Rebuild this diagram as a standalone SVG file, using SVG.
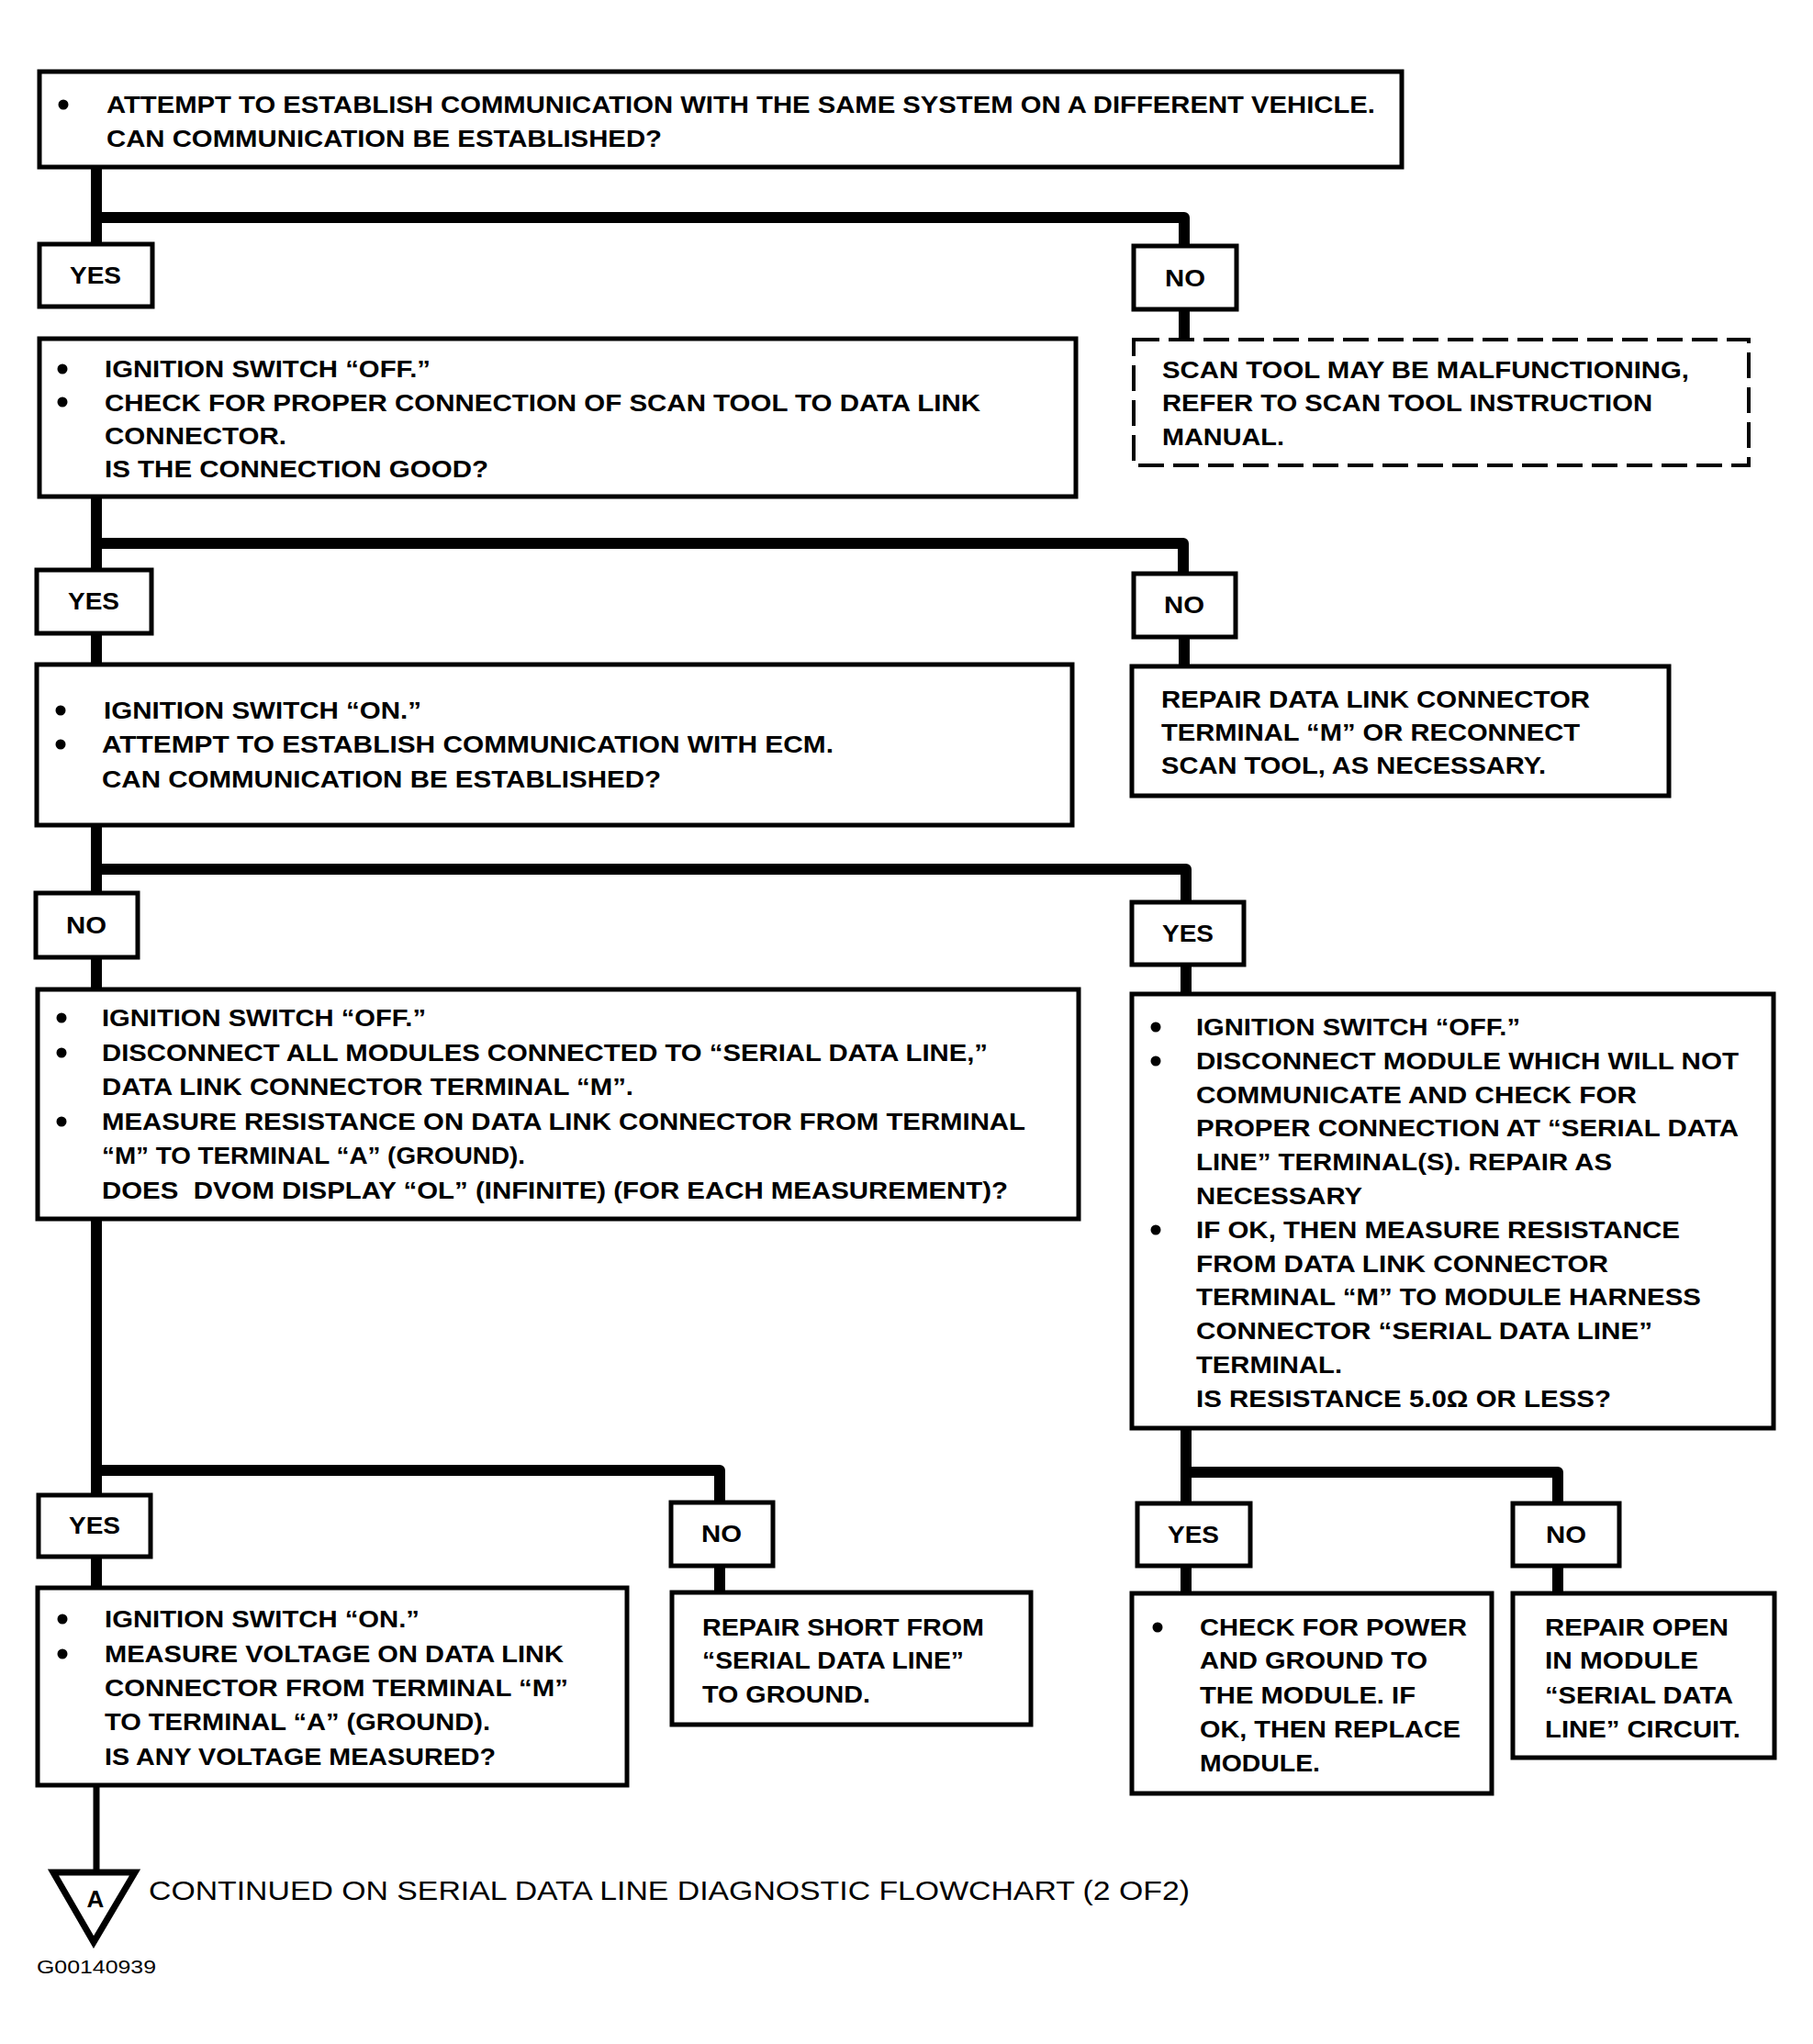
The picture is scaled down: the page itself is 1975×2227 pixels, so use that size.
<svg xmlns="http://www.w3.org/2000/svg" width="1975" height="2227" viewBox="0 0 1975 2227">
<style>
.box{fill:#fff;stroke:#000;stroke-width:5}
.dash{fill:#fff;stroke:#000;stroke-width:4;stroke-dasharray:28 10}
.t{font-family:"Liberation Sans",Arial,Helvetica,sans-serif;font-weight:bold;font-size:26px;fill:#000}
.lb{font-family:"Liberation Sans",Arial,Helvetica,sans-serif;font-weight:bold;font-size:25px;fill:#000;text-anchor:middle}
.conn{fill:none;stroke:#000;stroke-width:12;stroke-linejoin:round}
.thin{fill:none;stroke:#000;stroke-width:7}
.foot{font-family:"Liberation Sans",Arial,Helvetica,sans-serif;font-size:29px;fill:#000}
.code{font-family:"Liberation Sans",Arial,Helvetica,sans-serif;font-size:20px;fill:#000}
</style>
<rect width="1975" height="2227" fill="#fff"/>
<g id="connectors">
<path class="conn" d="M105,182 V266 M105,237 H1290 V268 M1290,337 V370"/>
<path class="conn" d="M105,541 V621 M105,592 H1289 V625 M105,690 V724 M1290,694 V726"/>
<path class="conn" d="M105,899 V973 M105,947 H1292 V983 M105,1043 V1078 M1292,1051 V1083"/>
<path class="conn" d="M105,1328 V1629 M105,1602 H784 V1637 M105,1696 V1730 M784,1706 V1735"/>
<path class="conn" d="M1292,1556 V1638 M1292,1604 H1697 V1638 M1292,1706 V1736 M1697,1706 V1736"/>
<path class="thin" d="M105,1945 V2040"/>
</g>
<g id="n1">
<rect class="box" x="43" y="78" width="1484" height="104"/>
<circle cx="69" cy="114" r="5.5"/>
<text class="t" x="116" y="123" textLength="1382" lengthAdjust="spacingAndGlyphs">ATTEMPT TO ESTABLISH COMMUNICATION WITH THE SAME SYSTEM ON A DIFFERENT VEHICLE.</text>
<text class="t" x="116" y="160" textLength="605" lengthAdjust="spacingAndGlyphs">CAN COMMUNICATION BE ESTABLISHED?</text>
</g>
<g id="yes1"><rect class="box" x="43" y="266" width="123" height="68"/><text class="lb" x="104" y="309" textLength="56" lengthAdjust="spacingAndGlyphs">YES</text></g>
<g id="no1"><rect class="box" x="1235" y="268" width="112" height="69"/><text class="lb" x="1291" y="312" textLength="44" lengthAdjust="spacingAndGlyphs">NO</text></g>
<g id="n2">
<rect class="box" x="43" y="369" width="1129" height="172"/>
<circle cx="68" cy="402" r="5.5"/><circle cx="68" cy="438" r="5.5"/>
<text class="t" x="114" y="411" textLength="355" lengthAdjust="spacingAndGlyphs">IGNITION SWITCH “OFF.”</text>
<text class="t" x="114" y="448" textLength="954" lengthAdjust="spacingAndGlyphs">CHECK FOR PROPER CONNECTION OF SCAN TOOL TO DATA LINK</text>
<text class="t" x="114" y="484" textLength="198" lengthAdjust="spacingAndGlyphs">CONNECTOR.</text>
<text class="t" x="114" y="520" textLength="418" lengthAdjust="spacingAndGlyphs">IS THE CONNECTION GOOD?</text>
</g>
<g id="n3">
<rect class="dash" x="1235" y="370" width="670" height="137"/>
<text class="t" x="1266" y="412" textLength="574" lengthAdjust="spacingAndGlyphs">SCAN TOOL MAY BE MALFUNCTIONING,</text>
<text class="t" x="1266" y="448" textLength="534" lengthAdjust="spacingAndGlyphs">REFER TO SCAN TOOL INSTRUCTION</text>
<text class="t" x="1266" y="485" textLength="133" lengthAdjust="spacingAndGlyphs">MANUAL.</text>
</g>
<g id="yes2"><rect class="box" x="40" y="621" width="125" height="69"/><text class="lb" x="102" y="664" textLength="56" lengthAdjust="spacingAndGlyphs">YES</text></g>
<g id="no2"><rect class="box" x="1235" y="625" width="111" height="69"/><text class="lb" x="1290" y="668" textLength="44" lengthAdjust="spacingAndGlyphs">NO</text></g>
<g id="n4">
<rect class="box" x="40" y="724" width="1128" height="175"/>
<circle cx="66" cy="774" r="5.5"/><circle cx="66" cy="811" r="5.5"/>
<text class="t" x="113" y="783" textLength="346" lengthAdjust="spacingAndGlyphs">IGNITION SWITCH “ON.”</text>
<text class="t" x="111" y="820" textLength="797" lengthAdjust="spacingAndGlyphs">ATTEMPT TO ESTABLISH COMMUNICATION WITH ECM.</text>
<text class="t" x="111" y="858" textLength="609" lengthAdjust="spacingAndGlyphs">CAN COMMUNICATION BE ESTABLISHED?</text>
</g>
<g id="n5">
<rect class="box" x="1233" y="726" width="585" height="141"/>
<text class="t" x="1265" y="771" textLength="467" lengthAdjust="spacingAndGlyphs">REPAIR DATA LINK CONNECTOR</text>
<text class="t" x="1265" y="807" textLength="456" lengthAdjust="spacingAndGlyphs">TERMINAL “M” OR RECONNECT</text>
<text class="t" x="1265" y="843" textLength="419" lengthAdjust="spacingAndGlyphs">SCAN TOOL, AS NECESSARY.</text>
</g>
<g id="no3"><rect class="box" x="39" y="973" width="111" height="70"/><text class="lb" x="94" y="1017" textLength="44" lengthAdjust="spacingAndGlyphs">NO</text></g>
<g id="yes3"><rect class="box" x="1233" y="983" width="122" height="68"/><text class="lb" x="1294" y="1026" textLength="56" lengthAdjust="spacingAndGlyphs">YES</text></g>
<g id="n6">
<rect class="box" x="41" y="1078" width="1134" height="250"/>
<circle cx="67" cy="1109" r="5.5"/><circle cx="67" cy="1147" r="5.5"/><circle cx="67" cy="1222" r="5.5"/>
<text class="t" x="111" y="1118" textLength="353" lengthAdjust="spacingAndGlyphs">IGNITION SWITCH “OFF.”</text>
<text class="t" x="111" y="1156" textLength="965" lengthAdjust="spacingAndGlyphs">DISCONNECT ALL MODULES CONNECTED TO “SERIAL DATA LINE,”</text>
<text class="t" x="111" y="1193" textLength="579" lengthAdjust="spacingAndGlyphs">DATA LINK CONNECTOR TERMINAL “M”.</text>
<text class="t" x="111" y="1231" textLength="1006" lengthAdjust="spacingAndGlyphs">MEASURE RESISTANCE ON DATA LINK CONNECTOR FROM TERMINAL</text>
<text class="t" x="111" y="1268" textLength="461" lengthAdjust="spacingAndGlyphs">“M” TO TERMINAL “A” (GROUND).</text>
<text class="t" x="111" y="1306" textLength="987" lengthAdjust="spacingAndGlyphs" xml:space="preserve">DOES  DVOM DISPLAY “OL” (INFINITE) (FOR EACH MEASUREMENT)?</text>
</g>
<g id="n7">
<rect class="box" x="1233" y="1083" width="699" height="473"/>
<circle cx="1259" cy="1119" r="5.5"/><circle cx="1259" cy="1156" r="5.5"/><circle cx="1259" cy="1340" r="5.5"/>
<text class="t" x="1303" y="1128" textLength="353" lengthAdjust="spacingAndGlyphs">IGNITION SWITCH “OFF.”</text>
<text class="t" x="1303" y="1165" textLength="591" lengthAdjust="spacingAndGlyphs">DISCONNECT MODULE WHICH WILL NOT</text>
<text class="t" x="1303" y="1202" textLength="480" lengthAdjust="spacingAndGlyphs">COMMUNICATE AND CHECK FOR</text>
<text class="t" x="1303" y="1238" textLength="591" lengthAdjust="spacingAndGlyphs">PROPER CONNECTION AT “SERIAL DATA</text>
<text class="t" x="1303" y="1275" textLength="453" lengthAdjust="spacingAndGlyphs">LINE” TERMINAL(S). REPAIR AS</text>
<text class="t" x="1303" y="1312" textLength="181" lengthAdjust="spacingAndGlyphs">NECESSARY</text>
<text class="t" x="1303" y="1349" textLength="527" lengthAdjust="spacingAndGlyphs">IF OK, THEN MEASURE RESISTANCE</text>
<text class="t" x="1303" y="1386" textLength="449" lengthAdjust="spacingAndGlyphs">FROM DATA LINK CONNECTOR</text>
<text class="t" x="1303" y="1422" textLength="550" lengthAdjust="spacingAndGlyphs">TERMINAL “M” TO MODULE HARNESS</text>
<text class="t" x="1303" y="1459" textLength="497" lengthAdjust="spacingAndGlyphs">CONNECTOR “SERIAL DATA LINE”</text>
<text class="t" x="1303" y="1496" textLength="159" lengthAdjust="spacingAndGlyphs">TERMINAL.</text>
<text class="t" x="1303" y="1533" textLength="452" lengthAdjust="spacingAndGlyphs">IS RESISTANCE 5.0Ω OR LESS?</text>
</g>
<g id="yes4"><rect class="box" x="42" y="1629" width="122" height="67"/><text class="lb" x="103" y="1671" textLength="56" lengthAdjust="spacingAndGlyphs">YES</text></g>
<g id="no4"><rect class="box" x="731" y="1637" width="111" height="69"/><text class="lb" x="786" y="1680" textLength="44" lengthAdjust="spacingAndGlyphs">NO</text></g>
<g id="yes5"><rect class="box" x="1239" y="1638" width="123" height="68"/><text class="lb" x="1300" y="1681" textLength="56" lengthAdjust="spacingAndGlyphs">YES</text></g>
<g id="no5"><rect class="box" x="1648" y="1638" width="116" height="68"/><text class="lb" x="1706" y="1681" textLength="44" lengthAdjust="spacingAndGlyphs">NO</text></g>
<g id="n8">
<rect class="box" x="41" y="1730" width="642" height="215"/>
<circle cx="68" cy="1764" r="5.5"/><circle cx="68" cy="1802" r="5.5"/>
<text class="t" x="114" y="1773" textLength="343" lengthAdjust="spacingAndGlyphs">IGNITION SWITCH “ON.”</text>
<text class="t" x="114" y="1811" textLength="500" lengthAdjust="spacingAndGlyphs">MEASURE VOLTAGE ON DATA LINK</text>
<text class="t" x="114" y="1848" textLength="505" lengthAdjust="spacingAndGlyphs">CONNECTOR FROM TERMINAL “M”</text>
<text class="t" x="114" y="1885" textLength="420" lengthAdjust="spacingAndGlyphs">TO TERMINAL “A” (GROUND).</text>
<text class="t" x="114" y="1923" textLength="426" lengthAdjust="spacingAndGlyphs">IS ANY VOLTAGE MEASURED?</text>
</g>
<g id="n9">
<rect class="box" x="732" y="1735" width="391" height="144"/>
<text class="t" x="765" y="1782" textLength="307" lengthAdjust="spacingAndGlyphs">REPAIR SHORT FROM</text>
<text class="t" x="765" y="1818" textLength="285" lengthAdjust="spacingAndGlyphs">“SERIAL DATA LINE”</text>
<text class="t" x="765" y="1855" textLength="183" lengthAdjust="spacingAndGlyphs">TO GROUND.</text>
</g>
<g id="n10">
<rect class="box" x="1233" y="1736" width="392" height="218"/>
<circle cx="1261" cy="1773" r="5.5"/>
<text class="t" x="1307" y="1782" textLength="291" lengthAdjust="spacingAndGlyphs">CHECK FOR POWER</text>
<text class="t" x="1307" y="1818" textLength="248" lengthAdjust="spacingAndGlyphs">AND GROUND TO</text>
<text class="t" x="1307" y="1856" textLength="235" lengthAdjust="spacingAndGlyphs">THE MODULE. IF</text>
<text class="t" x="1307" y="1893" textLength="284" lengthAdjust="spacingAndGlyphs">OK, THEN REPLACE</text>
<text class="t" x="1307" y="1930" textLength="131" lengthAdjust="spacingAndGlyphs">MODULE.</text>
</g>
<g id="n11">
<rect class="box" x="1648" y="1736" width="285" height="179"/>
<text class="t" x="1683" y="1782" textLength="200" lengthAdjust="spacingAndGlyphs">REPAIR OPEN</text>
<text class="t" x="1683" y="1818" textLength="167" lengthAdjust="spacingAndGlyphs">IN MODULE</text>
<text class="t" x="1683" y="1856" textLength="205" lengthAdjust="spacingAndGlyphs">“SERIAL DATA</text>
<text class="t" x="1683" y="1893" textLength="213" lengthAdjust="spacingAndGlyphs">LINE” CIRCUIT.</text>
</g>
<g id="offpage">
<polygon points="58,2040 147,2040 102,2116" fill="#fff" stroke="#000" stroke-width="7" stroke-linejoin="miter"/>
<text x="104" y="2078" font-family="Liberation Sans, Arial, sans-serif" font-weight="bold" font-size="26" text-anchor="middle">A</text>
<text class="foot" x="162" y="2070" textLength="1134" lengthAdjust="spacingAndGlyphs">CONTINUED ON SERIAL DATA LINE DIAGNOSTIC FLOWCHART (2 OF2)</text>
</g>
<text class="code" x="40" y="2150" textLength="130" lengthAdjust="spacingAndGlyphs">G00140939</text>
</svg>
